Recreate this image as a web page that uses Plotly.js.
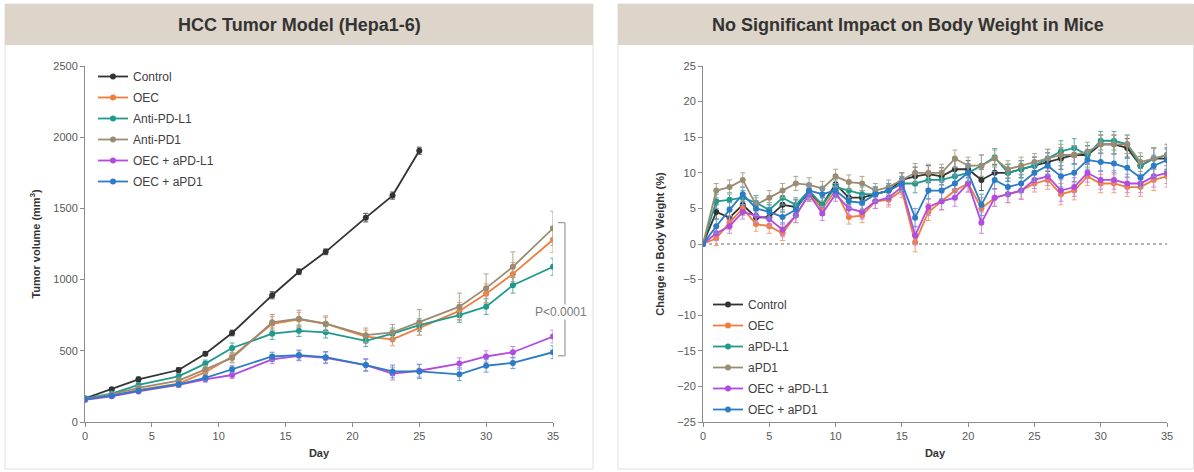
<!DOCTYPE html>
<html><head><meta charset="utf-8">
<script src="https://cdn.plot.ly/plotly-3.0.1.min.js"></script>
<style>html,body{margin:0;padding:0;background:#fff}#chart{width:1194px;height:472px}</style>
</head><body><div id="chart"></div>
<script>
// ---------- Left chart: tumor volume ----------
const groupNamesLeft = ["Control","OEC","Anti-PD-L1","Anti-PD1","OEC + aPD-L1","OEC + aPD1"];
const colors = ["#333333","#f07c3e","#1f9a8c","#9a8c72","#b24be0","#2b7cc4"];
const errColors = ["#555555","#f0a070","#5aaea4","#b0a690","#c888e8","#6a9ed0"];
const daysControl = [0,2,4,7,9,11,14,16,18,21,23,25];
const daysTreat = [0,2,4,7,9,11,14,16,18,21,23,25,28,30,32,35];
const volControl = [165,230,300,365,480,625,890,1055,1195,1435,1590,1905];
const volOEC     = [160,185,225,270,350,460,690,720,690,600,580,660,780,900,1040,1280];
const volPDL1    = [165,200,260,320,410,520,620,640,630,570,620,680,750,810,960,1090];
const volPD1     = [160,195,240,290,370,450,700,725,690,610,630,700,810,940,1090,1360];
const volOECPDL1 = [155,180,215,260,300,330,440,465,450,400,340,360,410,460,490,600];
const volOECPD1  = [160,185,220,265,310,370,460,470,455,400,355,355,335,395,415,490];
const errControl = [10,12,15,15,15,20,25,20,20,30,25,25];
const errOEC     = [10,10,15,15,25,40,50,50,45,45,45,50,60,70,80,90];
const errPDL1    = [10,10,15,20,25,35,40,40,40,40,40,45,50,55,55,60];
const errPD1     = [10,10,15,20,25,35,55,60,55,50,55,90,95,100,105,120];
const errOECPDL1 = [10,10,12,15,20,25,30,35,40,45,45,45,40,40,40,45];
const errOECPD1  = [10,10,12,15,20,25,30,35,40,40,45,50,45,45,40,45];
const leftX = [daysControl,daysTreat,daysTreat,daysTreat,daysTreat,daysTreat];
const leftY = [volControl,volOEC,volPDL1,volPD1,volOECPDL1,volOECPD1];
const leftE = [errControl,errOEC,errPDL1,errPD1,errOECPDL1,errOECPD1];
const pLabel = "P<0.0001";

// ---------- Right chart: body weight change ----------
const groupNamesRight = ["Control","OEC","aPD-L1","aPD1","OEC + aPD-L1","OEC + aPD1"];
const daysBW = [0,1,2,3,4,5,6,7,8,9,10,11,12,13,14,15,16,17,18,19,20,21,22,23,24,25,26,27,28,29,30,31,32,33,34,35];
const bwControl = [0,4.5,3.7,5.5,3.7,3.8,5.5,5.2,7.2,5.5,8.4,6.5,6.5,7,7.5,9,9.5,9.8,9.5,10.5,10.5,9,10,10,10.5,11,11.5,12,12.5,12.5,14,14,13.5,11,12,12];
const bwOEC     = [0,0.8,3,5,2.8,2.5,1.5,4,7,5,7.5,3.8,4,6,6.2,7.5,0.2,4.5,6,7.5,8.5,5,6.5,7,7.5,8.5,9,7,7.5,9.5,8.5,8.5,8,8,9,9.5];
const bwPDL1    = [0,6,6.2,6.5,5.8,4.8,6.5,5.5,7.5,5.5,8,7.5,7,7,7.5,8.5,8.5,9,9,9.5,10,11,12.2,10,10.5,11,12,13,13.5,12.5,14.5,14.5,14,11,12,12.5];
const bwPD1     = [0,7.5,8,9,5.5,6.5,7.5,8.5,8.3,7.8,9.5,8.7,8.5,7.5,8,9,10,10,10,12,11,11,12,10.5,11,11.5,12,12.5,12.5,13,14,14,14,11.5,12,12.5];
const bwOECPDL1 = [0,1.5,2.5,4.5,4,3.5,2,4,7,4.3,7,5,4.5,6,6.5,8,1.2,5.2,6,6.5,8.5,3,6.5,7,7.5,9,9.5,7.5,8,10,9,9,8.5,8.5,9.5,10];
const bwOECPD1  = [0,2.5,4.8,7,5,4.5,3.8,4.8,7.5,7,7.5,6,5.8,7,7.5,8.5,3.7,7.5,7.5,8.5,10,5.5,9,8,8.5,10,11,9.5,10,11.8,11.5,11.3,10.7,9.3,11,11.8];
const bwErr = [0,1,1,1,1,1,1,1,1,1,1,1,1,1,1,1,1.3,1.2,1.2,1.2,1.2,1.5,1.2,1.2,1.2,1.2,1.3,1.5,1.3,1.3,1.3,1.3,1.3,1.3,1.5,1.5];
const rightY = [bwControl,bwOEC,bwPDL1,bwPD1,bwOECPDL1,bwOECPD1];

const FONT = "Liberation Sans, Arial, sans-serif";
const W = 1194, H = 472;
const px = v => v / W;
const py = v => (H - v) / H;

const traces = [];
groupNamesLeft.forEach((n,i) => {
  traces.push({
    type:"scatter", mode:"lines+markers", name:n, x:leftX[i], y:leftY[i],
    xaxis:"x", yaxis:"y", legend:"legend", legendgroup:"L"+i,
    line:{color:colors[i], width:1.8}, marker:{color:colors[i], size:6},
    error_y:{type:"data", array:leftE[i], visible:true, color:errColors[i], thickness:1, width:2.5}
  });
});
groupNamesRight.forEach((n,i) => {
  traces.push({
    type:"scatter", mode:"lines+markers", name:n, x:daysBW, y:rightY[i],
    xaxis:"x2", yaxis:"y2", legend:"legend2", legendgroup:"R"+i,
    line:{color:colors[i], width:1.8}, marker:{color:colors[i], size:6},
    error_y:{type:"data", array:bwErr, visible:true, color:errColors[i], thickness:1, width:2.5}
  });
});

const axisCommon = {
  showgrid:false, zeroline:false, showline:true, linecolor:"#8c8c8c", linewidth:1,
  ticks:"outside", ticklen:4, tickcolor:"#8c8c8c",
  tickfont:{family:FONT, size:11, color:"#595959"}, fixedrange:true
};
const titleFont = {family:FONT, size:11, color:"#333333", weight:"bold"};

const layout = {
  width:W, height:H, margin:{l:0,r:0,t:0,b:0},
  paper_bgcolor:"#ffffff", plot_bgcolor:"rgba(0,0,0,0)",
  showlegend:true,
  xaxis:Object.assign({}, axisCommon, {domain:[px(85),px(553)], range:[0,35], dtick:5, tick0:0, anchor:"y",
    title:{text:"<b>Day</b>", font:titleFont, standoff:8}}),
  yaxis:Object.assign({}, axisCommon, {domain:[py(422),py(66)], range:[0,2500], dtick:500, anchor:"x",
    title:{text:"<b>Tumor volume (mm<sup>3</sup>)</b>", font:titleFont, standoff:10}}),
  xaxis2:Object.assign({}, axisCommon, {domain:[px(703),px(1167)], range:[0,35], dtick:5, tick0:0, anchor:"y2",
    title:{text:"<b>Day</b>", font:titleFont, standoff:8}}),
  yaxis2:Object.assign({}, axisCommon, {domain:[py(422),py(66)], range:[-25,25], dtick:5, anchor:"x2",
    title:{text:"<b>Change in Body Weight (%)</b>", font:titleFont, standoff:10}}),
  legend:{x:px(93), y:py(62), xanchor:"left", yanchor:"top", bgcolor:"rgba(0,0,0,0)",
    font:{family:FONT, size:12, color:"#404040"}, itemwidth:30, tracegroupgap:2},
  legend2:{x:px(708), y:py(290), xanchor:"left", yanchor:"top", bgcolor:"rgba(0,0,0,0)",
    font:{family:FONT, size:12, color:"#404040"}, itemwidth:30, tracegroupgap:2},
  shapes:[
    {type:"rect", xref:"paper", yref:"paper", x0:px(5), x1:px(593), y0:py(469), y1:py(4), line:{color:"#e0e0e0", width:1}, layer:"below"},
    {type:"rect", xref:"paper", yref:"paper", x0:px(618), x1:px(1193.5), y0:py(469), y1:py(4), line:{color:"#e0e0e0", width:1}, layer:"below"},
    {type:"rect", xref:"paper", yref:"paper", x0:px(5), x1:px(593), y0:py(45), y1:py(4), fillcolor:"#ddd5c9", line:{width:0}, layer:"below"},
    {type:"rect", xref:"paper", yref:"paper", x0:px(618), x1:px(1194), y0:py(45), y1:py(4), fillcolor:"#ddd5c9", line:{width:0}, layer:"below"},
    {type:"line", xref:"paper", yref:"y", x0:px(565), x1:px(565), y0:465, y1:1400, line:{color:"#9a9a9a", width:1.2}},
    {type:"line", xref:"paper", yref:"y", x0:px(558), x1:px(565), y0:1400, y1:1400, line:{color:"#9a9a9a", width:1.2}},
    {type:"line", xref:"paper", yref:"y", x0:px(558), x1:px(565), y0:465, y1:465, line:{color:"#9a9a9a", width:1.2}},
    {type:"line", xref:"x2", yref:"y2", x0:0, x1:35, y0:0, y1:0, line:{color:"#9a9a9a", width:1.5, dash:"dot"}, layer:"below"}
  ],
  annotations:[
    {xref:"paper", yref:"paper", x:px(299), y:py(25), text:"<b>HCC Tumor Model (Hepa1-6)</b>", showarrow:false,
     font:{family:FONT, size:18, color:"#333333"}, xanchor:"center", yanchor:"middle"},
    {xref:"paper", yref:"paper", x:px(908), y:py(25), text:"<b>No Significant Impact on Body Weight in Mice</b>", showarrow:false,
     font:{family:FONT, size:18, color:"#333333"}, xanchor:"center", yanchor:"middle"},
    {xref:"paper", yref:"y", x:px(561), y:775, text:pLabel, showarrow:false, bgcolor:"#ffffff",
     font:{family:FONT, size:12, color:"#7a7a7a"}, xanchor:"center", yanchor:"middle", borderpad:0}
  ]
};

Plotly.newPlot("chart", traces, layout, {displayModeBar:false, staticPlot:true});
</script></body></html>
